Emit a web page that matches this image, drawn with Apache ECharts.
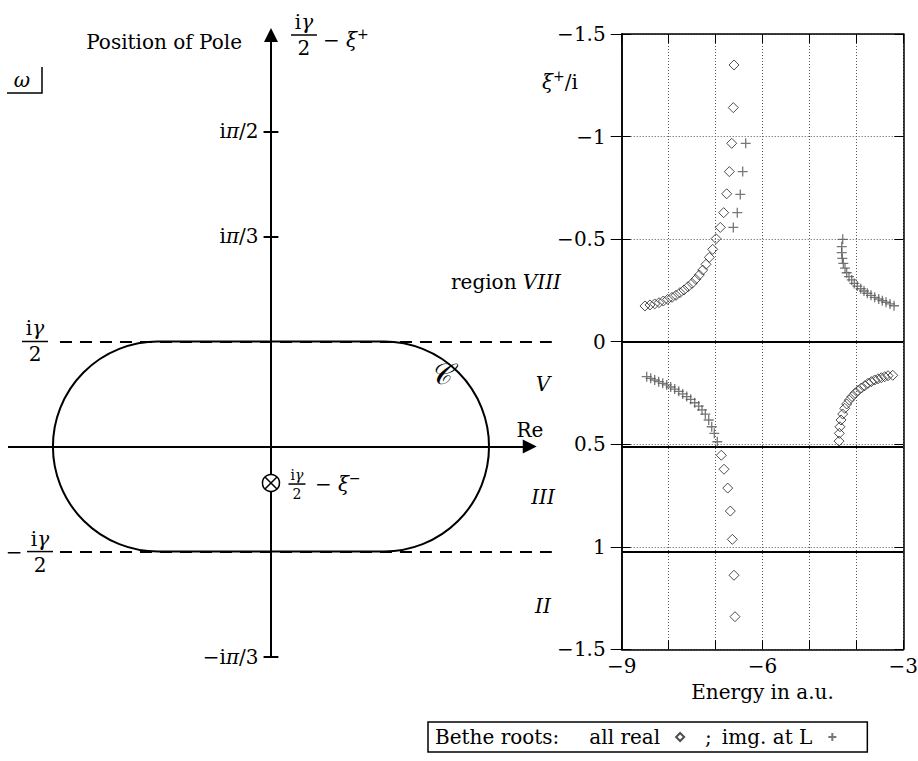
<!DOCTYPE html>
<html>
<head>
<meta charset="utf-8">
<script src="https://cdn.jsdelivr.net/npm/echarts@6/dist/echarts.min.js"></script>
<style>
  html, body { margin: 0; padding: 0; background: #fff; }
  #chart { width: 918px; height: 761px; }
</style>
</head>
<body>
<div id="chart"></div>
<script>
// ---------- right panel: Bethe roots, energy (a.u.) against xi+/i ----------
const energyTicks = [-9, -8, -7, -6, -5, -4, -3];
const energyTickLabels = ['−9', '', '', '−6', '', '', '−3'];
const xiTicks = [-1.5, -1, -0.5, 0, 0.5, 1, 1.5];
const xiTickLabels = ['−1.5', '−1', '−0.5', '0', '0.5', '1', '−1.5'];

// all roots real (diamonds)
const realUpperLeftE  = [-6.607, -6.622, -6.656, -6.707, -6.763, -6.827, -6.899, -6.990, -7.061, -7.133, -7.204, -7.274, -7.346, -7.423, -7.502, -7.587, -7.672, -7.758, -7.843, -7.928, -8.020, -8.113, -8.205, -8.297, -8.397, -8.504];
const realUpperLeftXi = [-1.349, -1.141, -0.967, -0.829, -0.721, -0.629, -0.557, -0.502, -0.450, -0.411, -0.377, -0.349, -0.325, -0.304, -0.284, -0.268, -0.252, -0.239, -0.226, -0.216, -0.206, -0.198, -0.190, -0.184, -0.179, -0.174];
const realLowerLeftE  = [-6.877, -6.820, -6.741, -6.686, -6.643, -6.607, -6.586];
const realLowerLeftXi = [0.554, 0.622, 0.714, 0.826, 0.964, 1.139, 1.341];
const realLowerRightE  = [-4.370, -4.363, -4.349, -4.327, -4.291, -4.248, -4.206, -4.150, -4.093, -4.029, -3.965, -3.894, -3.822, -3.752, -3.681, -3.609, -3.539, -3.468, -3.396, -3.325, -3.225];
const realLowerRightXi = [0.485, 0.447, 0.415, 0.382, 0.353, 0.325, 0.304, 0.285, 0.268, 0.252, 0.239, 0.226, 0.215, 0.203, 0.195, 0.187, 0.181, 0.176, 0.171, 0.166, 0.164];

// imaginary roots at L (crosses)
const imagLowerLeftE  = [-8.467, -8.382, -8.297, -8.212, -8.126, -8.041, -7.956, -7.871, -7.785, -7.700, -7.615, -7.530, -7.444, -7.359, -7.289, -7.218, -7.146, -7.082, -7.027, -6.963];
const imagLowerLeftXi = [0.171, 0.179, 0.187, 0.195, 0.203, 0.211, 0.221, 0.231, 0.242, 0.255, 0.268, 0.281, 0.298, 0.314, 0.333, 0.353, 0.382, 0.415, 0.447, 0.488];
const imagUpperE  = [-6.358, -6.422, -6.473, -6.537, -6.622];
const imagUpperXi = [-0.967, -0.829, -0.718, -0.629, -0.557];
const imagUpperRightE  = [-4.291, -4.312, -4.312, -4.299, -4.278, -4.242, -4.206, -4.157, -4.099, -4.044, -3.980, -3.907, -3.837, -3.767, -3.688, -3.609, -3.524, -3.447, -3.368, -3.283, -3.198];
const imagUpperRightXi = [-0.499, -0.463, -0.434, -0.406, -0.382, -0.358, -0.336, -0.317, -0.301, -0.284, -0.271, -0.258, -0.247, -0.236, -0.226, -0.216, -0.208, -0.200, -0.192, -0.184, -0.175];

// ---------- left panel: complex omega plane ----------
const gammaHalf = Math.PI / 6;          // gamma = pi/3
const contourHalfWidth = 1.087;         // half extent of the contour C along Re
const poleIm = -0.182;                  // position of the pole i*gamma/2 - xi^-
const imTicks = [Math.PI / 2, Math.PI / 3, -Math.PI / 3];
const imTickLabels = ['{r|i}{g|π}{r|/2}', '{r|i}{g|π}{r|/3}', '{r|−i}{g|π}{r|/3}'];

const legendNames = ['all real', 'img. at L'];

const F = '"DejaVu Serif", serif';
const FS = 20;

function zip(a, b) { return a.map((v, i) => [v, b[i]]); }

function richSet(size, lh) {
  return {
    r: { fontFamily: F, fontSize: size, color: '#000', align: 'center', lineHeight: lh },
    g: { fontFamily: F, fontSize: size, fontStyle: 'italic', color: '#000', align: 'center', lineHeight: lh },
    s: { fontFamily: F, fontSize: Math.round(size * 0.72), color: '#000', align: 'center', lineHeight: lh, verticalAlign: 'top' },
    c: { fontFamily: F, fontSize: Math.round(size * 1.45), fontStyle: 'italic', color: '#000', align: 'center', lineHeight: lh },
    b: { width: 24, height: 1.5, lineHeight: 4, fontSize: 2, backgroundColor: '#000', align: 'center' }
  };
}
function textEl(x, y, text, size, align) {
  return {
    type: 'text', x: x, y: y, z: 100,
    style: { text: text, align: align || 'center', verticalAlign: 'middle', fill: '#000',
      font: size + 'px ' + F, rich: richSet(size, Math.round(size * 1.3)) }
  };
}
function fracEl(x, y, num, den, size, barW) {
  const rich = richSet(size, Math.round(size * 1.1));
  rich.b.width = barW;
  return {
    type: 'text', x: x, y: y, z: 100,
    style: { text: num + '\n{b|\u00a0}\n' + den, align: 'center', verticalAlign: 'middle',
      fill: '#000', font: size + 'px ' + F, rich: rich }
  };
}

const chart = echarts.init(document.getElementById('chart'), null, { renderer: 'svg' });

const frameLine = { show: true, onZero: false, lineStyle: { color: '#000', width: 1.5 } };
const dotted = { show: true, lineStyle: { color: '#555', width: 1, type: [1, 2] } };
const labelStyle = { color: '#000', fontFamily: F, fontSize: FS };

chart.setOption({
  animation: false,
  backgroundColor: '#fff',
  grid: [
    { left: 6.2, top: 25.26, width: 545.6, height: 631.9, outerBoundsMode: 'none' },
    { left: 621.7, top: 34, width: 281.6, height: 615.3, outerBoundsMode: 'none' }
  ],
  xAxis: [
    { gridIndex: 0, type: 'value', min: -1.32, max: 1.4, show: false },
    { gridIndex: 1, type: 'value', min: -9, max: -3, interval: 1, position: 'bottom',
      axisLine: frameLine,
      axisTick: { show: true, inside: true, length: 9, lineStyle: { color: '#000' } },
      axisLabel: { ...labelStyle, margin: 7, formatter: v => energyTickLabels[energyTicks.indexOf(v)] || '' },
      splitLine: dotted,
      name: 'Energy in a.u.', nameLocation: 'middle', nameGap: 33,
      nameTextStyle: { ...labelStyle } },
    { gridIndex: 1, type: 'value', min: -9, max: -3, interval: 1, position: 'top',
      axisLine: frameLine,
      axisTick: { show: true, inside: true, length: 9, lineStyle: { color: '#000' } },
      axisLabel: { show: false }, splitLine: { show: false } }
  ],
  yAxis: [
    { gridIndex: 0, type: 'value', min: -1.05, max: 2.1, show: false },
    { gridIndex: 1, type: 'value', min: -1.5, max: 1.5, interval: 0.5, inverse: true, position: 'left',
      axisLine: frameLine,
      axisTick: { show: true, inside: false, length: 11, lineStyle: { color: '#000' } },
      axisLabel: { ...labelStyle, margin: 16, formatter: v => xiTickLabels[xiTicks.indexOf(v)] },
      splitLine: dotted },
    { gridIndex: 1, type: 'value', min: -1.5, max: 1.5, interval: 0.5, inverse: true, position: 'left',
      axisLine: frameLine,
      axisTick: { show: true, inside: true, length: 9, lineStyle: { color: '#000' } },
      axisLabel: { show: false }, splitLine: { show: false } },
    { gridIndex: 1, type: 'value', min: -1.5, max: 1.5, interval: 0.5, inverse: true, position: 'right',
      axisLine: frameLine,
      axisTick: { show: true, inside: true, length: 9, lineStyle: { color: '#000' } },
      axisLabel: { show: false }, splitLine: { show: false } }
  ],
  legend: {
    left: 428, top: 722, align: 'right', orient: 'horizontal',
    itemWidth: 8, itemHeight: 8, itemGap: 20,
    padding: [5, 30, 5, 7],
    borderColor: '#000', borderWidth: 1.5,
    data: legendNames,
    formatter: name => name === legendNames[0]
      ? '{lead|Bethe roots:}{t|' + name + '}{pad|\u00a0}'
      : '{semi|;}{t|' + name + '}{pad|\u00a0}',
    textStyle: {
      color: '#000', fontFamily: F, fontSize: FS,
      rich: {
        lead: { fontFamily: F, fontSize: FS, color: '#000', padding: [0, 30, 0, 0], lineHeight: 24 },
        semi: { fontFamily: F, fontSize: FS, color: '#000', padding: [0, 10, 0, 0], lineHeight: 24 },
        t: { fontFamily: F, fontSize: FS, color: '#000', lineHeight: 24 },
        pad: { width: 11, fontSize: 4 }
      }
    }
  },
  series: [
    // axes of the omega plane with arrow heads
    { id: 'omegaAxes', type: 'lines', coordinateSystem: 'cartesian2d', xAxisIndex: 0, yAxisIndex: 0,
      silent: true, clip: false, symbol: ['none', 'triangle'], symbolSize: [10, 14],
      lineStyle: { color: '#000', width: 2, opacity: 1 },
      data: [
        { coords: [[-1.311, 0], [1.29, 0]] },
        { coords: [[0, -Math.PI / 3], [0, 2.051]] }
      ] },
    // tick marks on the imaginary axis
    { id: 'imTicks', type: 'lines', coordinateSystem: 'cartesian2d', xAxisIndex: 0, yAxisIndex: 0,
      silent: true, clip: false, symbol: 'none', lineStyle: { color: '#000', width: 2, opacity: 1 },
      label: { show: true, position: 'start', distance: 5, formatter: p => p.name,
        rich: richSet(FS, 24) },
      data: imTicks.map((v, i) => ({ name: imTickLabels[i], coords: [[-0.037, v], [0.037, v]] })) },
    // the lines Im = +/- gamma/2
    { id: 'gammaLines', type: 'lines', coordinateSystem: 'cartesian2d', xAxisIndex: 0, yAxisIndex: 0,
      silent: true, clip: false, symbol: 'none', lineStyle: { color: '#000', width: 2, opacity: 1, type: [12, 8] },
      data: [
        { coords: [[-1.052, gammaHalf], [1.4, gammaHalf]] },
        { coords: [[-1.052, -gammaHalf], [1.4, -gammaHalf]] }
      ] },
    // integration contour C
    { id: 'contour', type: 'custom', coordinateSystem: 'cartesian2d', xAxisIndex: 0, yAxisIndex: 0,
      silent: true, clip: false, data: [[0, 0]],
      renderItem: (params, api) => {
        const p0 = api.coord([-contourHalfWidth, gammaHalf]);
        const p1 = api.coord([contourHalfWidth, -gammaHalf]);
        const h = p1[1] - p0[1];
        return { type: 'rect', shape: { x: p0[0], y: p0[1], width: p1[0] - p0[0], height: h, r: h / 2 },
          style: { fill: 'none', stroke: '#000', lineWidth: 2 } };
      } },
    // pole marker
    { id: 'pole', type: 'custom', coordinateSystem: 'cartesian2d', xAxisIndex: 0, yAxisIndex: 0,
      silent: true, clip: false, data: [[0, poleIm]],
      renderItem: (params, api) => {
        const c = api.coord([api.value(0), api.value(1)]);
        const r = 8.5, d = 6;
        return { type: 'group', children: [
          { type: 'circle', shape: { cx: c[0], cy: c[1], r: r }, style: { fill: '#fff', stroke: '#000', lineWidth: 1.5 } },
          { type: 'line', shape: { x1: c[0] - d, y1: c[1] - d, x2: c[0] + d, y2: c[1] + d }, style: { stroke: '#000', lineWidth: 1.5 } },
          { type: 'line', shape: { x1: c[0] - d, y1: c[1] + d, x2: c[0] + d, y2: c[1] - d }, style: { stroke: '#000', lineWidth: 1.5 } }
        ] };
      } },
    // region boundaries in the energy panel (filled in below)
    { id: 'regionLines', type: 'lines', coordinateSystem: 'cartesian2d', xAxisIndex: 1, yAxisIndex: 1,
      silent: true, symbol: 'none', z: 3, lineStyle: { color: '#000', width: 2, opacity: 1 }, data: [] },
    { name: legendNames[0], type: 'scatter', xAxisIndex: 1, yAxisIndex: 1, z: 4,
      symbol: 'diamond', symbolSize: 10,
      itemStyle: { color: 'rgba(255,255,255,0)', borderColor: '#222', borderWidth: 1 },
      data: zip(realUpperLeftE, realUpperLeftXi)
        .concat(zip(realLowerLeftE, realLowerLeftXi))
        .concat(zip(realLowerRightE, realLowerRightXi)) },
    { name: legendNames[1], type: 'scatter', xAxisIndex: 1, yAxisIndex: 1, z: 4,
      symbol: 'path://M0,5L10,5M5,0L5,10', symbolSize: 10,
      itemStyle: { color: 'rgba(255,255,255,0)', borderColor: '#555', borderWidth: 1.3 },
      data: zip(imagLowerLeftE, imagLowerLeftXi)
        .concat(zip(imagUpperE, imagUpperXi))
        .concat(zip(imagUpperRightE, imagUpperRightXi)) }
  ]
});

// carry the Im = gamma/2, 0, -gamma/2 levels of the omega plane across into the energy panel
const L = (x, y) => chart.convertToPixel({ xAxisIndex: 0, yAxisIndex: 0 }, [x, y]);
const toRight = lvl => chart.convertFromPixel({ xAxisIndex: 1, yAxisIndex: 1 }, [700, L(0, lvl)[1]])[1];
const levels = [gammaHalf, 0, -gammaHalf];

const yTop = L(0, gammaHalf)[1], yRe = L(0, 0)[1], yBot = L(0, -gammaHalf)[1];
const x0 = L(0, 0)[0];
const yPole = L(0, poleIm)[1];

chart.setOption({
  series: [{ id: 'regionLines', data: levels.map(l => ({ coords: [[-9, toRight(l)], [-3, toRight(l)]] })) }],
  graphic: [
    textEl(x0 - 29, 42, 'Position of Pole', FS, 'right'),
    fracEl(x0 + 33, 35, '{r|i}{g|γ}', '{r|2}', FS, 26),
    textEl(x0 + 52, 40, '{r|− }{g|ξ}{s|+}', FS, 'left'),
    textEl(22, 80, '{g|ω}', FS, 'center'),
    { type: 'polyline', shape: { points: [[7, 93], [42, 93], [42, 67]] }, style: { stroke: '#000', lineWidth: 1.5, fill: 'none' } },
    fracEl(35, yTop, '{r|i}{g|γ}', '{r|2}', FS, 26),
    textEl(14, yBot, '{r|−}', FS, 'center'),
    fracEl(40, yBot, '{r|i}{g|γ}', '{r|2}', FS, 26),
    textEl(440, 374, '{c|𝒞}', FS, 'center'),
    textEl(530, yRe - 17, '{r|Re}', FS, 'center'),
    fracEl(x0 + 26, yPole + 1, '{r|i}{g|γ}', '{r|2}', 14, 17),
    textEl(x0 + 44, yPole + 1, '{r|− }{g|ξ}{s|−}', FS, 'left'),
    textEl(506, 282, '{r|region }{g|VIII}', FS, 'center'),
    textEl(543, (yTop + yRe) / 2 - 10, '{g|V}', FS, 'center'),
    textEl(543, (yRe + yBot) / 2 - 2, '{g|III}', FS, 'center'),
    textEl(543, yBot + 54, '{g|II}', FS, 'center'),
    textEl(560, 82, '{g|ξ}{s|+}{r|/i}', FS, 'center')
  ]
});
</script>
</body>
</html>
